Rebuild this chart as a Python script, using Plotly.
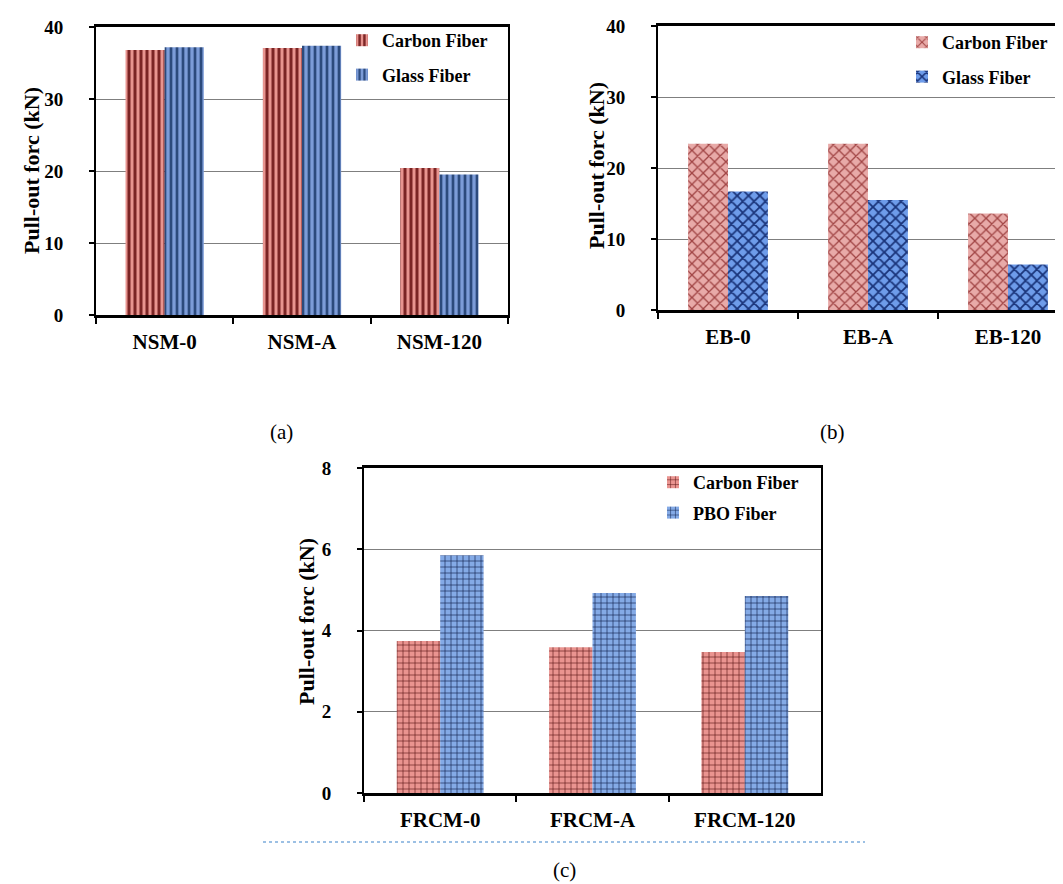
import plotly.graph_objects as go

# ---- data ----
cats_a = ["NSM-0", "NSM-A", "NSM-120"]
carbon_a = [36.8, 37.1, 20.4]
glass_a = [37.2, 37.4, 19.5]

cats_b = ["EB-0", "EB-A", "EB-120"]
carbon_b = [23.4, 23.4, 13.6]
glass_b = [16.7, 15.5, 6.4]

cats_c = ["FRCM-0", "FRCM-A", "FRCM-120"]
carbon_c = [3.74, 3.59, 3.47]
pbo_c = [5.85, 4.92, 4.85]

y_title = "Pull-out forc (kN)"
panel_labels = ["(a)", "(b)", "(c)"]

W, H = 1063, 884
SERIF = "Liberation Serif"


def px_x(v):
    return v / W


def px_y(v):
    return 1 - v / H


fig = go.Figure()

# (a) vertical stripes
fig.add_trace(go.Bar(x=cats_a, y=carbon_a, name="Carbon Fiber", xaxis="x", yaxis="y",
                     legend="legend", legendgroup="a1",
                     marker=dict(color="#e6908c", line=dict(width=0),
                                 pattern=dict(shape="|", fgcolor="#7a2424", bgcolor="#e8948f",
                                              size=6, solidity=0.5))))
fig.add_trace(go.Bar(x=cats_a, y=glass_a, name="Glass Fiber", xaxis="x", yaxis="y",
                     legend="legend", legendgroup="a2",
                     marker=dict(color="#7a9ad8", line=dict(width=0),
                                 pattern=dict(shape="|", fgcolor="#2c4a7c", bgcolor="#7c9cd8",
                                              size=6, solidity=0.45))))

# (b) cross-hatch
fig.add_trace(go.Bar(x=cats_b, y=carbon_b, name="Carbon Fiber", xaxis="x2", yaxis="y2",
                     legend="legend2", legendgroup="b1",
                     marker=dict(color="#e0a0a0", line=dict(width=0),
                                 pattern=dict(shape="x", fgcolor="#a04444", bgcolor="#e8aaa8",
                                              size=8, solidity=0.3))))
fig.add_trace(go.Bar(x=cats_b, y=glass_b, name="Glass Fiber", xaxis="x2", yaxis="y2",
                     legend="legend2", legendgroup="b2",
                     marker=dict(color="#6a98e6", line=dict(width=0),
                                 pattern=dict(shape="x", fgcolor="#1a347a", bgcolor="#6e9cea",
                                              size=8, solidity=0.4))))

# (c) grid
fig.add_trace(go.Bar(x=cats_c, y=carbon_c, name="Carbon Fiber", xaxis="x3", yaxis="y3",
                     legend="legend3", legendgroup="c1",
                     marker=dict(color="#e89090", line=dict(width=0),
                                 pattern=dict(shape="+", fgcolor="#5a1414", bgcolor="#ea9490",
                                              size=6, solidity=0.2))))
fig.add_trace(go.Bar(x=cats_c, y=pbo_c, name="PBO Fiber", xaxis="x3", yaxis="y3",
                     legend="legend3", legendgroup="c2",
                     marker=dict(color="#88aee6", line=dict(width=0),
                                 pattern=dict(shape="+", fgcolor="#10204a", bgcolor="#84aae6",
                                              size=6, solidity=0.2))))

tickfont_y = dict(family=SERIF, size=19, color="black", weight="bold")
tickfont_x = dict(family=SERIF, size=21, color="black", weight="bold")


def xax(domain, anchor, rng, mirror=True):
    return dict(domain=domain, anchor=anchor, type="category", range=rng,
                showline=True, linecolor="black", linewidth=2.5, mirror=mirror,
                ticks="outside", tickson="boundaries", ticklen=6, tickwidth=2, tickcolor="black",
                tickfont=tickfont_x, ticklabelstandoff=6, showgrid=False, automargin=False,
                fixedrange=True)


def yax(domain, anchor, rng, dtick, mirror=True):
    return dict(domain=domain, anchor=anchor, range=rng, dtick=dtick,
                showline=True, linecolor="black", linewidth=2, mirror=mirror,
                ticks="outside", ticklen=5, tickwidth=2, tickcolor="black",
                tickfont=tickfont_y, ticklabelstandoff=22,
                showgrid=True, gridcolor="#7f7f7f", gridwidth=1, zeroline=False,
                automargin=False, fixedrange=True)


legfont = dict(family=SERIF, size=18, color="black", weight="bold")


def leg(left, top, gap):
    return dict(x=px_x(left), y=px_y(top), xanchor="left", yanchor="top",
                bgcolor="rgba(0,0,0,0)", font=legfont, traceorder="grouped",
                tracegroupgap=gap, itemwidth=30)


fig.update_layout(
    width=W, height=H, autosize=False,
    margin=dict(l=0, r=0, t=0, b=0),
    template="none",
    paper_bgcolor="white", plot_bgcolor="white",
    barmode="group", bargap=0.43, bargroupgap=0,
    showlegend=True,
    xaxis=xax([px_x(88), px_x(500)], "y", [-0.5, 2.5]),
    yaxis=yax([px_y(307), px_y(19)], "x", [0, 40], 10),
    xaxis2=xax([px_x(650), 1.0], "y2", [-0.5, 2.45]),
    yaxis2=yax([px_y(302), px_y(18)], "x2", [0, 40], 10, mirror=False),
    xaxis3=xax([px_x(356), px_x(813)], "y3", [-0.5, 2.5]),
    yaxis3=yax([px_y(785), px_y(460)], "x3", [0, 8], 2),
    legend=leg(334, 14, 8),
    legend2=leg(894, 16, 8),
    legend3=leg(645, 456, 4),
)

# y-axis titles
title_font = dict(family=SERIF, size=22, color="black", weight="bold")
for xp, yp in [(23, 163), (588, 158), (298, 614)]:
    fig.add_annotation(text=y_title, x=px_x(xp), y=px_y(yp), xref="paper", yref="paper",
                       textangle=-90, showarrow=False, font=title_font,
                       xanchor="center", yanchor="middle")

# panel labels
lab_font = dict(family=SERIF, size=21, color="black")
for lab, (xp, yp) in zip(panel_labels, [(273, 424), (824, 424), (556, 862)]):
    fig.add_annotation(text=lab, x=px_x(xp), y=px_y(yp), xref="paper", yref="paper",
                       showarrow=False, font=lab_font, xanchor="center", yanchor="middle")

# dotted separator under panel (c)
fig.add_shape(type="line", xref="paper", yref="paper",
              x0=px_x(255), x1=px_x(857), y0=px_y(834), y1=px_y(834),
              line=dict(color="#9cc0e4", width=2, dash="dot"))

fig.write_html("out.html")
